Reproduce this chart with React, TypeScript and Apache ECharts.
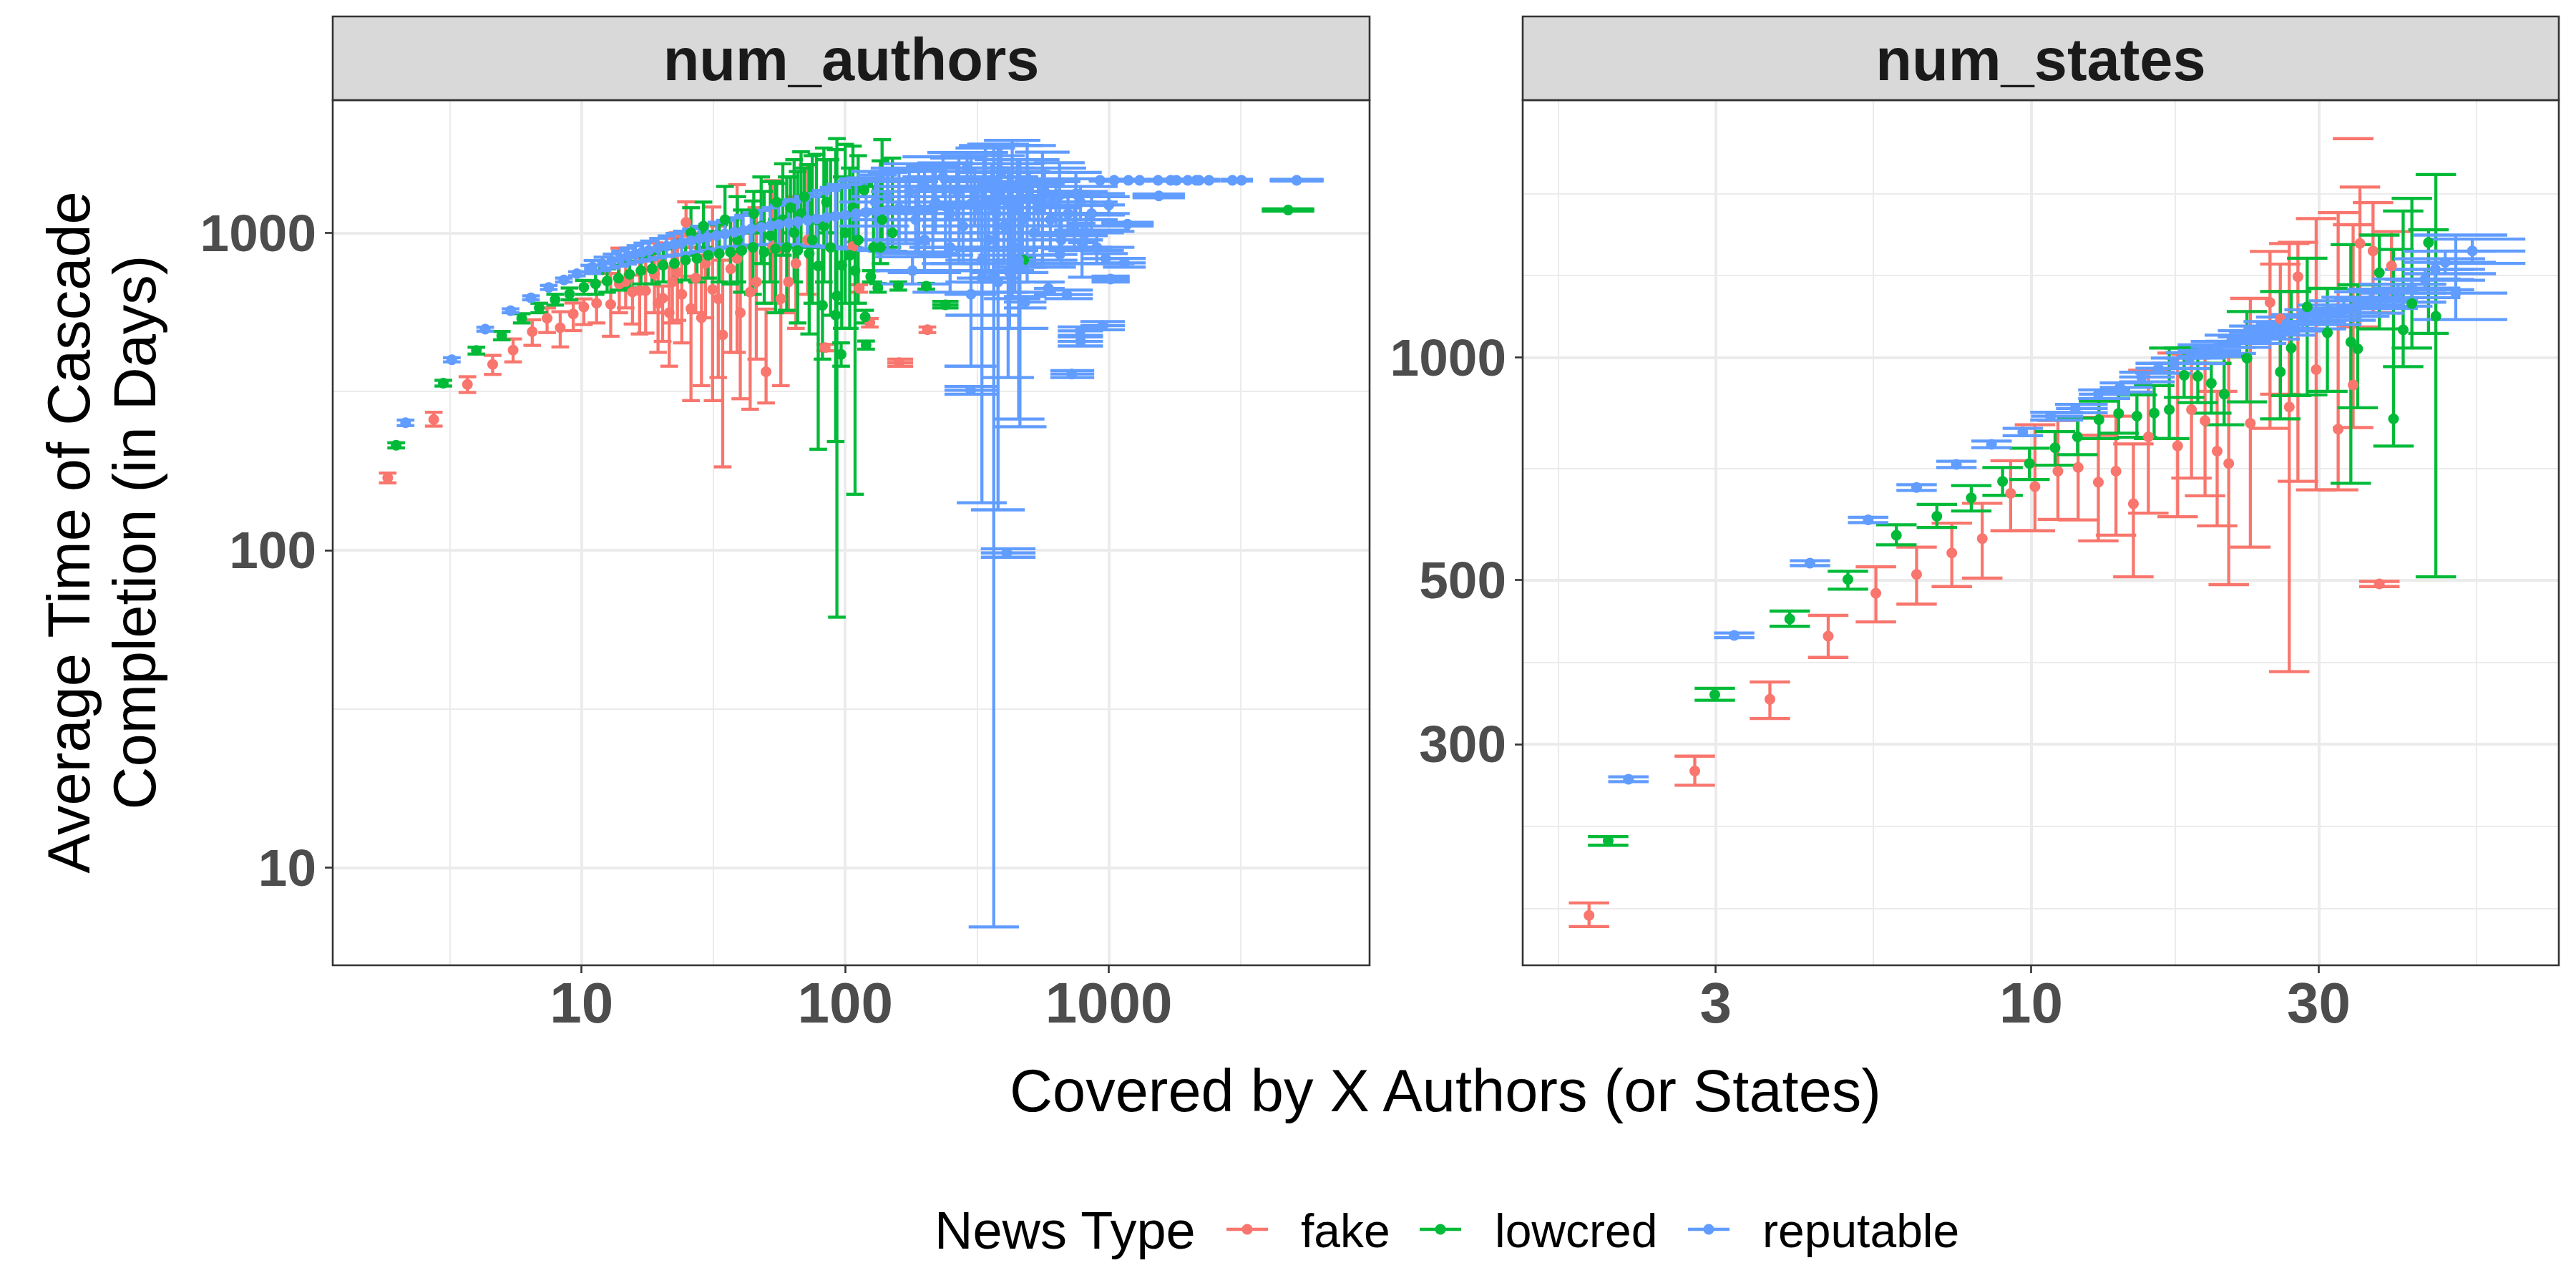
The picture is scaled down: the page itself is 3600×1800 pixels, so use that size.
import React, { useEffect, useRef } from "react";
import * as echarts from "echarts";

type Row = (number | null)[];

// ---------- labels ----------
const newsTypes = ["fake", "lowcred", "reputable"];
const typeColors = ["#F8766D", "#00BA38", "#619CFF"];
const facetTitles = ["num_authors", "num_states"];
const xAxisTitle = "Covered by X Authors (or States)";
const yAxisTitle = "Average Time of Cascade\nCompletion (in Days)";
const legendTitle = "News Type";

// ---------- axes (log10 scales) ----------
const authorsXTicks = [10, 100, 1000];
const authorsYTicks = [10, 100, 1000];
const statesXTicks = [3, 10, 30];
const statesYTicks = [300, 500, 1000];
const authorsXLimits = [1.138, 9750];
const authorsYLimits = [4.92, 2618];
const statesXLimits = [1.436, 75];
const statesYLimits = [150.7, 2228];

// ---------- data: [x, y, yMin, yMax, xMin?, xMax?] ----------
const authorsFake: Row[] = [
  [1.84, 169, 163, 175], [2.75, 258, 246, 272], [3.69, 333, 314, 352], [4.6, 385, 358, 411],
  [5.5, 427, 392, 463], [6.5, 488, 442, 532], [7.4, 538, 485, 580], [8.3, 502, 437, 564],
  [9.3, 555, 492, 601], [10.2, 584, 514, 619], [11.4, 600, 520, 700], [12.9, 595, 472, 745],
  [13.9, 690, 560, 895], [14.7, 703, 580, 800], [15.6, 651, 516, 736], [16.6, 657, 480, 836],
  [17.5, 657, 483, 836], [18.9, 740, 560, 930], [19.5, 600, 420, 820], [20.3, 622, 455, 680],
  [21.5, 560, 380, 780], [22.1, 700, 520, 960], [23.1, 750, 530, 1000], [24, 640, 450, 900],
  [24.9, 1079, 977, 1252], [26, 577, 296, 730], [27.1, 720, 560, 900], [28.5, 540, 330, 850],
  [29.5, 800, 540, 1000], [31.4, 663, 296, 1206], [33, 620, 350, 1050], [34.3, 477, 183, 820],
  [36.8, 770, 420, 1100], [38.9, 830, 420, 1419], [40, 560, 300, 900], [43.6, 650, 278, 1000],
  [46, 700, 400, 1200], [50.1, 365, 291, 575], [53, 900, 600, 1460], [57, 620, 330, 1100],
  [60.9, 700, 560, 900], [65, 800, 500, 1300], [72, 950, 640, 1638], [84, 435, 425, 445],
  [107, 907, 880, 935], [113, 668, 650, 686], [124, 521, 505, 537], [160, 390, 380, 400, 144.5, 181],
  [205, 495, 485, 505],
];
const authorsLowcred: Row[] = [
  [1.98, 214, 210, 218], [2.99, 336, 329, 343], [3.99, 426, 415, 436], [4.98, 474, 460, 489],
  [5.93, 538, 520, 556], [6.91, 580, 560, 600], [7.94, 616, 592, 640], [9.0, 642, 615, 670],
  [10.2, 674, 640, 708], [11.3, 690, 640, 745], [12.5, 705, 650, 770], [13.8, 720, 660, 790],
  [15.2, 740, 670, 815], [16.8, 760, 690, 840], [18.5, 770, 690, 860], [20.4, 790, 700, 890],
  [22.5, 800, 700, 910], [24.8, 820, 710, 950], [26, 1000, 850, 1200], [27.4, 830, 700, 990],
  [29, 1050, 900, 1250], [30.2, 850, 720, 1010], [33.3, 860, 700, 1060], [35, 1100, 900, 1400],
  [36.7, 870, 690, 1100], [39, 950, 700, 1300], [40.5, 880, 650, 1180], [44.7, 900, 640, 1260],
  [45, 1150, 1000, 1350], [48, 1050, 800, 1500], [49.3, 870, 600, 1350], [52, 980, 700, 1450],
  [54.4, 890, 560, 1450], [55, 1250, 1100, 1430], [58, 1100, 850, 1650], [60, 900, 570, 1500],
  [62, 1200, 1000, 1500], [64, 1000, 700, 1700], [66, 880, 520, 1560], [68, 1150, 900, 1800],
  [70, 1300, 1100, 1600], [73, 860, 480, 1640], [75, 950, 600, 1750], [77.8, 1100, 900, 1767],
  [79, 786, 208, 1300], [82, 591, 400, 900], [83, 1050, 700, 1850], [85, 1250, 1000, 1700],
  [88, 900, 550, 1700], [92, 551, 220, 1829], [93, 633, 61.5, 1981], [96.5, 414, 380, 450],
  [97, 790, 500, 1500], [100, 1000, 600, 1900], [104, 850, 500, 1600], [107, 1200, 900, 1876],
  [109, 760, 150, 1400], [112, 950, 600, 1750], [118, 1365, 1300, 1420], [119, 544, 520, 570],
  [120, 443, 430, 456], [125, 728, 700, 760], [128, 900, 700, 1400], [133, 671, 650, 692],
  [136, 900, 800, 1686], [138, 1100, 950, 1966], [151, 1000, 900, 1720], [159, 681, 660, 700],
  [203, 679, 665, 693], [240, 593, 580, 608, 214, 269], [475, 820, 800, 840, 420, 530],
  [4790, 1180, 1170, 1190, 3806, 6012],
];
const authorsReputable: Row[] = [
  [2.15, 252, 247, 257], [3.22, 398, 392, 404], [4.31, 497, 490, 504], [5.38, 568, 560, 576],
  [6.43, 624, 615, 633], [7.51, 673, 663, 683], [8.57, 710, 700, 720], [9.6, 743, 732, 754],
  [10.7, 771, 752, 790], [11, 780, 745, 818], [12, 798, 760, 838], [13, 815, 775, 857],
  [14, 830, 785, 876], [15, 845, 797, 895], [16, 858, 808, 911], [17, 870, 815, 928],
  [18, 880, 823, 942], [19.5, 895, 834, 960], [21, 908, 843, 978], [22.5, 920, 850, 996],
  [24, 930, 855, 1012], [26, 944, 865, 1030], [28, 957, 873, 1049], [30, 968, 880, 1065],
  [32.5, 980, 890, 1080], [35, 992, 900, 1095], [38, 1005, 905, 1115], [41, 1017, 910, 1135],
  [44, 1028, 915, 1155], [48, 1040, 918, 1178], [52, 1052, 920, 1200], [56, 1062, 920, 1222],
  [61, 1074, 918, 1248, 54, 68], [66, 1085, 915, 1272, 58, 74], [72, 1096, 912, 1300, 64, 81],
  [78, 1107, 908, 1330, 69, 88], [85, 1118, 905, 1360, 75, 96], [92, 1128, 900, 1390, 80, 105],
  [100, 1138, 895, 1420, 85, 118], [110, 1150, 890, 1455, 93, 130], [120, 1160, 885, 1490, 101, 142],
  [132, 1172, 880, 1520, 111, 157], [145, 1183, 875, 1550, 122, 172], [160, 1195, 870, 1580, 134, 190],
  [170, 1175, 925, 1480, 138, 210], [190, 1188, 870, 1580, 152, 238], [215, 1200, 860, 1620, 170, 272],
  [240, 1212, 850, 1660, 188, 306], [270, 1224, 800, 1720, 210, 347], [300, 1235, 760, 1790, 232, 388],
  [340, 1247, 700, 1850, 262, 441], [380, 1258, 650, 1900, 290, 498], [430, 1270, 620, 1956, 336, 550],
  [490, 1283, 700, 1884, 380, 630], [560, 1297, 800, 1795, 440, 710], [650, 1312, 900, 1664, 520, 810],
  [750, 1328, 1000, 1550, 600, 940],
  [130, 1250, 1050, 1480, 95, 175], [145, 1300, 1100, 1560, 105, 200], [160, 1180, 950, 1450, 115, 225],
  [175, 1350, 1150, 1600, 125, 245], [185, 1100, 860, 1400, 130, 260], [200, 1400, 1200, 1650, 140, 285],
  [220, 1250, 1000, 1560, 155, 315], [235, 1500, 1300, 1736, 165, 335], [250, 1150, 900, 1480, 175, 360],
  [265, 1350, 1100, 1650, 185, 380], [280, 1050, 800, 1380, 195, 400], [290, 1600, 1400, 1790, 205, 415],
  [310, 1300, 1050, 1600, 215, 450], [320, 1200, 950, 1500, 220, 465], [335, 1450, 1200, 1750, 230, 480],
  [350, 950, 700, 1300, 240, 500], [360, 1380, 1150, 1650, 250, 520], [375, 1150, 880, 1500, 260, 540],
  [390, 1550, 1300, 1884, 270, 560], [400, 1050, 800, 1400, 280, 575], [420, 1250, 1000, 1560, 290, 600],
  [440, 900, 650, 1250, 300, 630], [450, 1400, 1150, 1700, 310, 650], [470, 1100, 850, 1430, 320, 680],
  [500, 1300, 1100, 1550, 345, 720], [520, 1000, 780, 1300, 360, 750], [540, 1200, 1000, 1450, 375, 780],
  [570, 1350, 1150, 1600, 395, 820], [600, 1100, 900, 1350, 420, 860], [630, 1250, 1050, 1480, 440, 900],
  [660, 950, 800, 1150, 460, 950], [700, 1150, 980, 1350, 500, 990], [740, 1050, 900, 1220, 530, 1030],
  [780, 1250, 1100, 1400, 560, 1080], [820, 1000, 880, 1140, 590, 1140], [860, 1150, 1020, 1300, 620, 1200],
  [900, 900, 800, 1010, 650, 1250], [420, 750, 500, 1050, 300, 590], [330, 820, 550, 1150, 240, 450],
  [250, 900, 650, 1200, 180, 350], [200, 950, 750, 1200, 145, 275], [180, 760, 690, 840, 130, 250],
  [926, 1464, 1455, 1473, 840, 1020], [1048, 1464, 1455, 1473, 950, 1150], [1186, 1464, 1455, 1473, 1075, 1300],
  [1309, 1464, 1455, 1473, 1190, 1440], [1537, 1464, 1455, 1473, 1390, 1700], [1717, 1464, 1455, 1473, 1550, 1900],
  [1805, 1464, 1455, 1473, 1630, 2000], [1992, 1464, 1455, 1473, 1800, 2200], [2146, 1464, 1455, 1473, 1940, 2370],
  [2199, 1464, 1455, 1473, 1990, 2430], [2398, 1464, 1455, 1473, 2170, 2650], [2943, 1464, 1455, 1473, 2660, 3250],
  [3186, 1464, 1455, 1473, 2880, 3520], [5158, 1464, 1455, 1473, 4080, 6525],
  [1548, 1307, 1290, 1325, 1230, 1943], [1000, 1224, 1139, 1329, 870, 1150], [1177, 1065, 1050, 1080, 937, 1479],
  [791, 932, 725, 1072, 700, 890], [652, 855, 820, 890, 560, 760], [973, 829, 800, 860, 800, 1180],
  [1146, 804, 780, 830, 950, 1380], [1015, 715, 700, 730, 860, 1200], [590, 668, 640, 700, 520, 680],
  [693, 639, 620, 660, 570, 870], [481, 605, 580, 630, 400, 580], [949, 510, 495, 525, 780, 1150],
  [779, 491, 475, 505, 640, 950], [781, 455, 440, 470, 640, 950], [723, 359, 350, 368, 600, 880],
  [299, 319, 310, 328, 238, 380], [410, 98, 95, 101, 327, 527], [300, 640, 380, 1100, 238, 375],
  [330, 720, 141, 1400, 265, 410], [380, 700, 134, 1500, 300, 480], [415, 760, 350, 1600, 330, 520],
  [455, 820, 259, 1650, 365, 570], [460, 780, 245, 1700, 365, 580], [366, 720, 6.5, 1900, 294, 456],
];

const statesFake: Row[] = [
  [1.85, 176, 170, 183], [2.77, 276, 264, 289], [3.69, 345, 325, 364], [4.61, 420, 393, 448],
  [5.53, 480, 439, 521], [6.46, 509, 464, 554], [7.39, 544, 490, 597], [8.3, 569, 503, 635],
  [9.25, 655, 583, 725], [10.15, 669, 583, 811], [11.08, 702, 604, 822], [11.97, 710, 603, 830],
  [12.93, 678, 565, 785], [13.83, 702, 575, 833], [14.78, 634, 505, 764], [15.65, 781, 616, 961],
  [17.5, 759, 609, 1014], [18.45, 850, 687, 1010], [19.43, 821, 650, 1000], [20.35, 747, 592, 900],
  [21.27, 719, 493, 1003], [23.1, 815, 554, 1202], [24.9, 1187, 802, 1391], [25.9, 1128, 892, 1337],
  [26.8, 857, 376, 1426], [27.7, 1286, 680, 1431], [29.7, 963, 662, 1541], [32.3, 800, 662, 1570],
  [34.2, 918, 804, 1512], [34.2, null, 1976, 1976], [35.1, 1426, 1100, 1700], [36.9, 1393, 1150, 1620],
  [37.8, 494, 490, 498], [39.6, 1330, 1200, 1480],
];
const statesLowcred: Row[] = [
  [1.99, 222, 219, 225], [2.99, 350, 344, 357], [3.98, 443, 433, 454], [4.97, 501, 486, 514],
  [5.98, 575, 558, 594], [6.98, 610, 589, 633], [7.96, 646, 620, 671], [8.97, 680, 651, 710],
  [9.94, 719, 684, 754], [10.96, 755, 715, 794], [11.94, 781, 739, 828], [12.96, 824, 777, 873],
  [13.97, 840, 790, 892], [14.98, 833, 780, 890], [16.0, 841, 777, 916], [16.95, 850, 777, 1030],
  [17.94, 946, 883, 1030], [18.9, 943, 869, 1030], [19.9, 923, 841, 982], [20.9, 892, 811, 1003],
  [22.8, 998, 871, 1154], [25.9, 956, 826, 1228], [27.0, 1030, 888, 1228], [28.7, 1171, 890, 1362],
  [31.0, 1080, 900, 1240], [33.9, 1049, 676, 1421], [34.8, 1027, 855, 1254], [37.8, 1302, 1093, 1464],
  [39.9, 826, 759, 1400], [41.4, 1090, 972, 1578], [42.8, 1183, 1030, 1641], [45.6, 1430, 1078, 1488],
  [46.9, 1137, 505, 1768],
];
const statesReputable: Row[] = [
  [2.15, 269, 267, 271], [3.22, 421, 418, 424], [4.3, 527, 523, 531], [5.37, 603, 598, 608],
  [6.46, 667, 661, 673], [7.52, 717, 710, 724], [8.6, 763, 755, 771], [9.69, 793, 784, 802],
  [10.77, 833, 823, 843, 10.0, 12.2], [11.84, 853, 842, 864, 11.0, 13.4], [12.93, 892, 880, 904, 12.0, 14.6],
  [14.04, 911, 898, 924, 13.0, 15.9], [15.25, 941, 927, 955, 14.0, 17.3], [16.26, 967, 952, 982, 14.9, 18.5],
  [17.26, 982, 966, 998, 15.8, 19.8], [18.31, 998, 981, 1015, 16.7, 21.0], [19.28, 1022, 1004, 1040, 17.5, 22.3],
  [20.35, 1032, 1013, 1051, 18.4, 23.6], [21.5, 1052, 1032, 1072, 19.4, 25.0], [22.7, 1066, 1045, 1087, 20.4, 26.5],
  [23.8, 1081, 1059, 1103, 21.3, 27.9], [25.2, 1095, 1072, 1118, 22.5, 29.6], [26.5, 1110, 1086, 1134, 23.6, 31.2],
  [28.2, 1118, 1093, 1143, 25.0, 33.3], [29.8, 1134, 1108, 1160, 26.3, 35.3], [31.4, 1150, 1123, 1177, 27.6, 37.3],
  [33.0, 1165, 1137, 1193, 28.9, 39.3], [34.8, 1177, 1148, 1206, 30.3, 41.6], [36.6, 1196, 1165, 1227, 31.8, 43.8],
  [38.6, 1205, 1173, 1237, 33.4, 46.3], [40.6, 1222, 1188, 1256, 35.0, 48.8], [42.8, 1241, 1205, 1277, 36.8, 51.5],
  [45.0, 1275, 1235, 1315, 38.6, 54.3], [46.8, 1316, 1272, 1360, 40.0, 56.6], [48.6, 1345, 1298, 1392, 41.4, 59.0],
  [50.6, 1222, 1125, 1464, 43.0, 61.6], [53.9, 1393, 1340, 1446, 45.6, 66.0],
];

// ---------- layout / style constants ----------
const FONT = "Liberation Sans";
const PANELS = [
  { left: 465, top: 140, width: 1449, height: 1209 },
  { left: 2128, top: 140, width: 1448, height: 1209 },
];
const STRIP_TOP = 23;
const CAP_HALF = 0.0335; // error bar cap half width (decades)
const BAR_W = 4.3;
const POINT_SIZE = 15;

const lg = (v: number) => Math.log10(v);

function minorBreaks(majors: number[]): number[] {
  const b = majors.map(lg);
  const bd = b[1] - b[0];
  const ext = [b[0] - bd, ...b, b[b.length - 1] + bd];
  const out: number[] = [];
  for (let i = 0; i < ext.length - 1; i++) out.push(ext[i], (ext[i] + ext[i + 1]) / 2);
  out.push(ext[ext.length - 1]);
  return out.filter((v) => !b.some((m) => Math.abs(m - v) < 1e-9));
}

const fmt = (v: number) => String(Math.round(Math.pow(10, v)));

function majorAxis(pos: string, gridIndex: number, limits: number[], ticks: number[], fontSize: number, margin: number) {
  const vals = ticks.map(lg);
  return {
    type: "value",
    gridIndex,
    position: pos,
    min: lg(limits[0]),
    max: lg(limits[1]),
    axisLine: { show: false },
    axisTick: { show: true, length: 11, inside: false, lineStyle: { color: "#333333", width: 2.6 }, customValues: vals },
    axisLabel: {
      show: true,
      customValues: vals,
      formatter: fmt,
      fontSize,
      fontWeight: "bold",
      fontFamily: FONT,
      color: "#4D4D4D",
      margin,
    },
    splitLine: { show: true, lineStyle: { color: "#EBEBEB", width: 4 } },
    minorTick: { show: false },
    minorSplitLine: { show: false },
  };
}

function minorAxis(pos: string, gridIndex: number, limits: number[], ticks: number[]) {
  return {
    type: "value",
    gridIndex,
    position: pos,
    min: lg(limits[0]),
    max: lg(limits[1]),
    axisLine: { show: false },
    axisTick: { show: false, customValues: minorBreaks(ticks) },
    axisLabel: { show: false },
    splitLine: { show: true, lineStyle: { color: "#EBEBEB", width: 2 } },
  };
}

function toBars(rows: Row[]) {
  return rows.map((r) => {
    const x = r[0] as number;
    const y = r[1];
    const lo = r[2] as number;
    const hi = r[3] as number;
    const xl = (r[4] ?? x) as number;
    const xr = (r[5] ?? x) as number;
    return [lg(x), y == null ? lg(lo) : lg(y), lg(lo), lg(hi), lg(xl), lg(xr), y == null ? 0 : 1];
  });
}
function toPoints(rows: Row[]) {
  return rows.filter((r) => r[1] != null).map((r) => [lg(r[0] as number), lg(r[1] as number)]);
}

function barRenderer(color: string) {
  return (_params: any, api: any) => {
    const x = api.value(0);
    const y = api.value(1);
    const lo = api.value(2);
    const hi = api.value(3);
    const xl = api.value(4);
    const xr = api.value(5);
    const hasPt = api.value(6);
    const cl = Math.min(xl, x - CAP_HALF);
    const cr = Math.max(xr, x + CAP_HALF);
    const style = { stroke: color, lineWidth: BAR_W, fill: null };
    const seg = (a: number[], b: number[]) => ({
      type: "line",
      shape: { x1: a[0], y1: a[1], x2: b[0], y2: b[1] },
      style,
    });
    const children: any[] = [];
    if (hi > lo) children.push(seg(api.coord([x, lo]), api.coord([x, hi])));
    children.push(seg(api.coord([cl, lo]), api.coord([cr, lo])));
    children.push(seg(api.coord([cl, hi]), api.coord([cr, hi])));
    if (hasPt && xr > xl) children.push(seg(api.coord([xl, y]), api.coord([xr, y])));
    return { type: "group", children };
  };
}

const panelData = [
  [authorsFake, authorsLowcred, authorsReputable],
  [statesFake, statesLowcred, statesReputable],
];

function buildSeries() {
  const series: any[] = [];
  panelData.forEach((sets, p) => {
    sets.forEach((rows, t) => {
      series.push({
        type: "custom",
        name: newsTypes[t],
        xAxisIndex: p * 2,
        yAxisIndex: p * 2,
        clip: true,
        renderItem: barRenderer(typeColors[t]),
        dimensions: ["x", "y", "ymin", "ymax", "xmin", "xmax", "pt"],
        encode: { x: 0, y: 1 },
        data: toBars(rows),
        z: 2,
      });
    });
    sets.forEach((rows, t) => {
      series.push({
        type: "scatter",
        name: newsTypes[t],
        xAxisIndex: p * 2,
        yAxisIndex: p * 2,
        clip: true,
        symbol: "circle",
        symbolSize: POINT_SIZE,
        itemStyle: { color: typeColors[t], opacity: 1 },
        data: toPoints(rows),
        z: 3,
      });
    });
  });
  return series;
}

function buildGraphic() {
  const g: any[] = [];
  PANELS.forEach((p, i) => {
    g.push({
      type: "rect",
      shape: { x: p.left, y: STRIP_TOP, width: p.width, height: p.top - STRIP_TOP },
      style: { fill: "#D9D9D9", stroke: "#333333", lineWidth: 2.6 },
      z: 100,
      silent: true,
    });
    g.push({
      type: "text",
      x: p.left + p.width / 2,
      y: 83,
      style: {
        text: facetTitles[i],
        fill: "#1A1A1A",
        fontSize: 83,
        fontWeight: "bold",
        fontFamily: FONT,
        align: "center",
        verticalAlign: "middle",
      },
      z: 101,
      silent: true,
    });
    g.push({
      type: "rect",
      shape: { x: p.left, y: p.top, width: p.width, height: p.height },
      style: { fill: "transparent", stroke: "#333333", lineWidth: 2.6 },
      z: 100,
      silent: true,
    });
  });
  g.push({
    type: "text",
    x: 2020,
    y: 1524,
    style: { text: xAxisTitle, fill: "#000000", fontSize: 83, fontFamily: FONT, align: "center", verticalAlign: "middle" },
    z: 101,
    silent: true,
  });
  g.push({
    type: "text",
    x: 142,
    y: 744,
    rotation: Math.PI / 2,
    style: {
      text: yAxisTitle,
      fill: "#000000",
      fontSize: 83,
      lineHeight: 92,
      fontFamily: FONT,
      align: "center",
      verticalAlign: "middle",
    },
    z: 101,
    silent: true,
  });
  g.push({
    type: "text",
    x: 1306,
    y: 1719,
    style: { text: legendTitle, fill: "#000000", fontSize: 74, fontFamily: FONT, align: "left", verticalAlign: "middle" },
    z: 101,
    silent: true,
  });
  const keyX = [1714, 1984, 2359];
  const labelX = [1818, 2089, 2463];
  newsTypes.forEach((name, t) => {
    g.push({
      type: "line",
      shape: { x1: keyX[t], y1: 1718, x2: keyX[t] + 58, y2: 1718 },
      style: { stroke: typeColors[t], lineWidth: 4.3 },
      z: 101,
      silent: true,
    });
    g.push({
      type: "circle",
      shape: { cx: keyX[t] + 29, cy: 1718, r: 7.5 },
      style: { fill: typeColors[t] },
      z: 102,
      silent: true,
    });
    g.push({
      type: "text",
      x: labelX[t],
      y: 1720,
      style: { text: name, fill: "#000000", fontSize: 66, fontFamily: FONT, align: "left", verticalAlign: "middle" },
      z: 101,
      silent: true,
    });
  });
  return g;
}

export default function App() {
  const ref = useRef<HTMLDivElement>(null);
  useEffect(() => {
    if (!ref.current) return;
    const chart = echarts.init(ref.current, null, { renderer: "svg" });
    chart.setOption({
      animation: false,
      backgroundColor: "#FFFFFF",
      textStyle: { fontFamily: FONT },
      grid: PANELS.map((p) => ({ left: p.left, top: p.top, width: p.width, height: p.height, containLabel: false, show: false })),
      xAxis: [
        majorAxis("bottom", 0, authorsXLimits, authorsXTicks, 80, 12),
        minorAxis("top", 0, authorsXLimits, authorsXTicks),
        majorAxis("bottom", 1, statesXLimits, statesXTicks, 80, 12),
        minorAxis("top", 1, statesXLimits, statesXTicks),
      ],
      yAxis: [
        majorAxis("left", 0, authorsYLimits, authorsYTicks, 73, 23),
        minorAxis("right", 0, authorsYLimits, authorsYTicks),
        majorAxis("left", 1, statesYLimits, statesYTicks, 73, 23),
        minorAxis("right", 1, statesYLimits, statesYTicks),
      ],
      series: buildSeries(),
      graphic: buildGraphic(),
    });
    return () => chart.dispose();
  }, []);
  return (
    <div
      ref={ref}
      style={{ position: "fixed", left: 0, top: 0, width: 3600, height: 1800, background: "#FFFFFF" }}
    />
  );
}
